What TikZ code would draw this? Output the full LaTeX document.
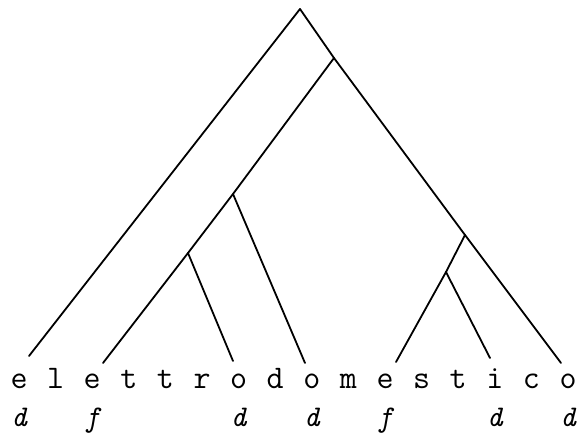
\documentclass[tikz,border=0pt]{standalone}
\usepackage{fontspec}
\begin{document}
\begin{tikzpicture}[x=1pt,y=1pt,
  letter/.style={inner sep=0pt,anchor=base,font=\ttfamily\fontsize{33}{33}\selectfont},
  lab/.style={inner sep=0pt,anchor=base,font=\ttfamily\itshape\fontsize{30}{30}\selectfont},
  branch/.style={line width=1.8pt,line cap=round,line join=round}]
\useasboundingbox (0,0) rectangle (582,432);
% letters
\foreach \c [count=\i from 0] in {e,l,e,t,t,r,o,d,o,m,e,s,t,i,c,o}
  \node[letter] (l\i) at ({19+36.6*\i},44) {\c};
% labels
\foreach \i/\t in {0/d,2/f,6/d,8/d,10/f,13/d,15/d}
  \node[lab] (lab\i) at ({19+36.6*\i},6) {\t};
% internal points
\coordinate (R) at (300,423);
\coordinate (A) at (334,374);
\coordinate (B) at (233,238);
\coordinate (C) at (188,179);
\coordinate (D) at (465,197);
\coordinate (E) at (446,160);
% leaf ends
\coordinate (t0) at (29,76);
\coordinate (t2) at (103,69);
\coordinate (t6) at (233,71);
\coordinate (t8) at (305,69);
\coordinate (t10) at (396,70);
\coordinate (t13) at (490,74);
\coordinate (t15) at (561,69);
% tree
\draw[branch] (t0) -- (R) -- (A) -- (D) -- (t15);
\draw[branch] (A) -- (B) -- (C) -- (t2);
\draw[branch] (B) -- (t8);
\draw[branch] (C) -- (t6);
\draw[branch] (D) -- (E) -- (t10);
\draw[branch] (E) -- (t13);
\end{tikzpicture}
\end{document}
